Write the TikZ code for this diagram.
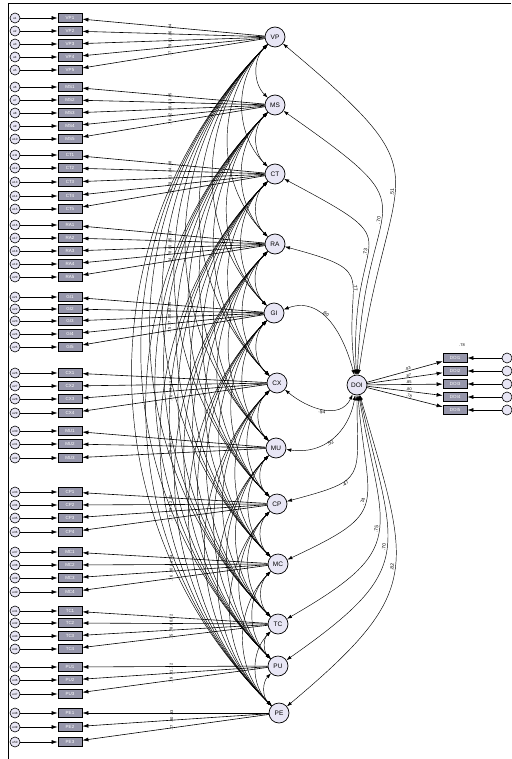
\documentclass[tikz,border=0pt]{standalone}
\usepackage{fontspec}
\setmainfont{Liberation Sans}
\usetikzlibrary{arrows.meta}
\definecolor{latfill}{RGB}{232,230,245}
\definecolor{indfill}{RGB}{150,150,170}
\tikzset{
  lat/.style={circle,draw,line width=0.7pt,fill=latfill,minimum size=20pt,inner sep=0pt,font=\fontsize{6.5}{7}\selectfont},
  ind/.style={rectangle,draw,line width=0.8pt,fill=indfill,minimum width=24pt,minimum height=9pt,inner sep=0pt,text=white,font=\fontsize{4.5}{5}\selectfont},
  errc/.style={circle,draw,line width=0.6pt,fill=latfill,minimum size=10pt,inner sep=0pt,font=\fontsize{3}{3.5}\selectfont},
  arr/.style={line width=0.6pt,-{Latex[length=6pt,width=4pt]}},
  cov/.style={line width=0.45pt,{Latex[length=5pt,width=3.5pt]}-{Latex[length=5pt,width=3.5pt]}},
  lbl/.style={font=\fontsize{4}{4.5}\selectfont,inner sep=0.5pt},
  clbl/.style={font=\fontsize{5}{5.5}\selectfont,inner sep=0.8pt},
}
\begin{document}
\begin{tikzpicture}[x=1pt,y=-1pt]
\useasboundingbox (0,0) rectangle (511,759);
\draw[line width=1pt] (8,759) -- (8,4) -- (511,4);
% latent factors
\node[lat] (VP) at (275,37) {VP};
\node[lat] (MS) at (275,105) {MS};
\node[lat] (CT) at (275,174) {CT};
\node[lat] (RA) at (275,244) {RA};
\node[lat] (GI) at (274,313) {GI};
\node[lat] (CX) at (277,383) {CX};
\node[lat] (MU) at (276,448) {MU};
\node[lat] (CP) at (277,504) {CP};
\node[lat] (MC) at (278,564) {MC};
\node[lat] (TC) at (278,624) {TC};
\node[lat] (PU) at (278,666) {PU};
\node[lat] (PE) at (279,713) {PE};
\node[lat] (DOI) at (357,385) {DOI};
% indicators of the left factors
\foreach \y/\lt/\t/\v [count=\k] in {
 18/VP/VP1/.84, 31/VP/VP2/.86, 44/VP/VP3/.81, 57/VP/VP4/.79, 70/VP/VP5/.77,
 87/MS/MS1/.85, 100/MS/MS2/.83, 113/MS/MS3/.80, 126/MS/MS4/.82, 139/MS/MS5/.78,
 155/CT/CT1/.88, 168/CT/CT2/.84, 182/CT/CT3/.81, 196/CT/CT4/.79, 209/CT/CT5/.76,
 225/RA/RA1/.83, 238/RA/RA2/.85, 251/RA/RA3/.80, 264/RA/RA4/.78, 277/RA/RA5/.74,
 297/GI/GI1/.86, 309/GI/GI2/.82, 321/GI/GI3/.80, 334/GI/GI4/.77, 347/GI/GI5/.75,
 373/CX/CX1/.84, 386/CX/CX2/.81, 399/CX/CX3/.79, 413/CX/CX4/.76,
 431/MU/MU1/.83, 444/MU/MU2/.80, 458/MU/MU3/.78,
 492/CP/CP1/.85, 505/CP/CP2/.82, 518/CP/CP3/.79, 532/CP/CP4/.77,
 552/MC/MC1/.84, 565/MC/MC2/.81, 578/MC/MC3/.80, 592/MC/MC4/.76,
 611/TC/TC1/.82, 623/TC/TC2/.80, 636/TC/TC3/.78, 649/TC/TC4/.75,
 667/PU/PU1/.72, 680/PU/PU2/.81, 694/PU/PU3/.79,
 713/PE/PE1/.83, 727/PE/PE2/.80, 742/PE/PE3/.77} {
  \node[ind] (i\k) at (70,\y) {\t};
  \node[errc] (e\k) at (15,\y) {e\k};
  \draw[arr] (e\k) -- (i\k);
  \draw[arr] (\lt) -- (i\k) node[lbl,pos=0.52,rotate=90] {\v};
}
% indicators of DOI
\foreach \y/\v [count=\k] in {358/.83,371/.87,384/.85,397/.80,410/.78} {
  \node[ind] (d\k) at (455,\y) {DOI\k};
  \node[errc] (f\k) at (507,\y) {};
  \draw[arr] (f\k) -- (d\k);
  \draw[arr] (DOI) -- (d\k) node[lbl,pos=0.55,sloped,above] {\v};
}
\node[lbl] (v78) at (462,345) {.78};
% covariances among the left factors
\foreach \a [count=\i] in {VP,MS,CT,RA,GI,CX,MU,CP,MC,TC,PU,PE} {
  \foreach \b [count=\j] in {VP,MS,CT,RA,GI,CX,MU,CP,MC,TC,PU,PE} {
    \ifnum\j>\i
      \draw[cov] (\a) to[bend right=45] (\b);
    \fi
  }
}
% covariances with DOI
\draw[cov] (DOI) to[out=82,in=-40,looseness=1.65] node[clbl,pos=0.45,sloped,above] {.51} (VP);
\draw[cov] (DOI) to[out=88,in=-35,looseness=1.8] node[clbl,pos=0.45,sloped,above] {.70} (MS);
\draw[cov] (DOI) to[out=93,in=-28,looseness=1.9] node[clbl,pos=0.45,sloped,above] {.73} (CT);
\draw[cov] (DOI) to[out=98,in=-15,looseness=1.8] node[clbl,pos=0.45,sloped,above] {.77} (RA);
\draw[cov] (DOI) to[out=105,in=20,looseness=1.1] node[clbl,pos=0.58,sloped,above] {.60} (GI);
\draw[cov] (DOI) to[out=-115,in=-40,looseness=1.1] node[clbl,pos=0.5,sloped,below] {.54} (CX);
\draw[cov] (DOI) to[out=-100,in=-8,looseness=1.1] node[clbl,pos=0.55,sloped,below] {.52} (MU);
\draw[cov] (DOI) to[out=-90,in=15,looseness=1.7] node[clbl,pos=0.64,sloped,below] {.47} (CP);
\draw[cov] (DOI) to[out=-85,in=25,looseness=1.65] node[clbl,pos=0.5,sloped,above] {.74} (MC);
\draw[cov] (DOI) to[out=-80,in=30,looseness=1.55] node[clbl,pos=0.48,sloped,above] {.75} (TC);
\draw[cov] (DOI) to[out=-77,in=35,looseness=1.5] node[clbl,pos=0.48,sloped,above] {.70} (PU);
\draw[cov] (DOI) to[out=-74,in=40,looseness=1.45] node[clbl,pos=0.48,sloped,above] {.82} (PE);
\end{tikzpicture}
\end{document}
